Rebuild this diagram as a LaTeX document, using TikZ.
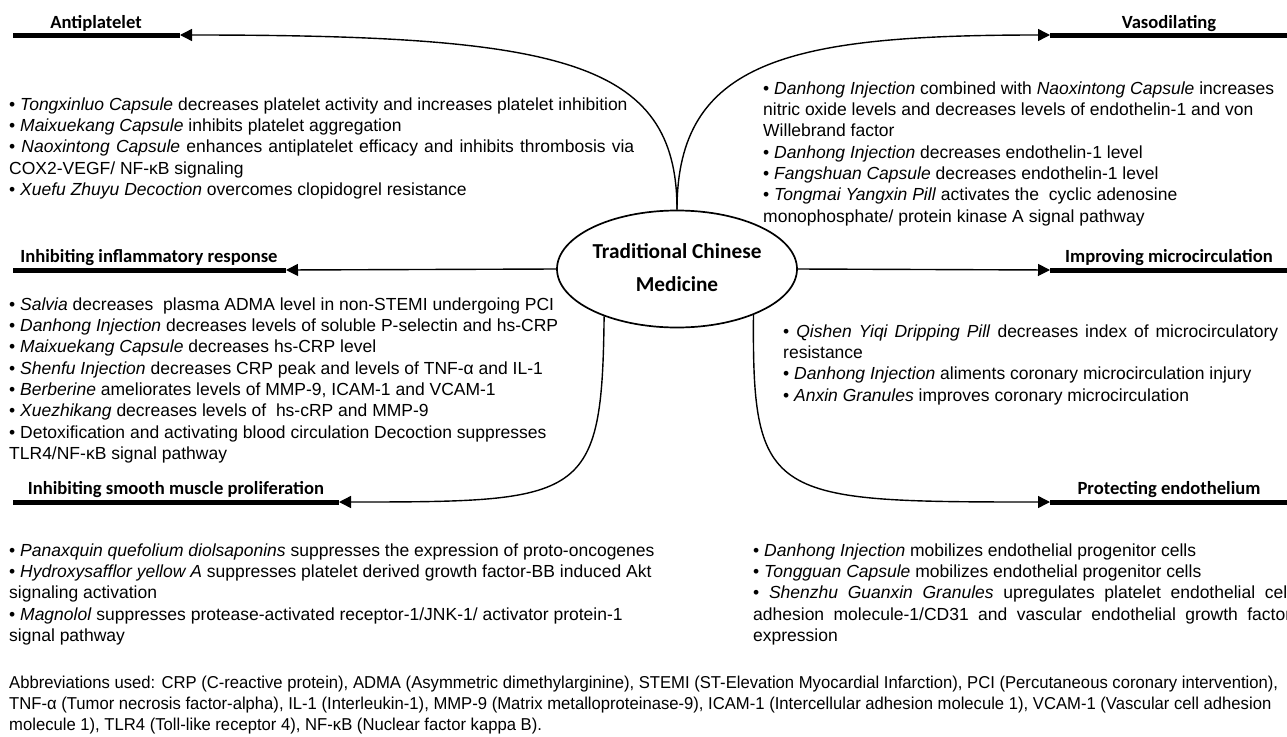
\documentclass[tikz,border=0pt]{standalone}
\usepackage{fontspec}
\setmainfont{Liberation Sans}
\newfontfamily\headfamily{Carlito}
\usetikzlibrary{arrows.meta,shapes.geometric}
\newcommand\bodyfont{\fontsize{17.5pt}{21.3pt}\selectfont}
\newcommand\hdfont{\headfamily\bfseries\fontsize{18.6pt}{23pt}\selectfont}
\newcommand\tcmfont{\headfamily\bfseries\fontsize{21.3pt}{26pt}\selectfont}
\newcommand\abbrfont{\fontsize{17.2pt}{21.3pt}\selectfont}
\newsavebox\abbrbox
\tikzset{
  blocktext/.style={anchor=north west, inner sep=0pt, align=left, font=\bodyfont},
  headtext/.style={anchor=base, inner sep=0pt, font=\hdfont},
  hbar/.style={line width=5pt},
  conn/.style={line width=1.4pt, -{Triangle[length=12pt,width=12pt]}},
  tcmshape/.style={draw, ellipse, line width=1.7pt, minimum width=240pt, minimum height=117pt, inner sep=0pt}
}
\begin{document}
\sbox\abbrbox{\abbrfont Abbreviations used: CRP (C-reactive protein), ADMA (Asymmetric dimethylarginine), STEMI (ST-Elevation Myocardial Infarction), PCI (Percutaneous coronary intervention),}%
\pgfmathsetmacro\abbrratio{1269/\the\wd\abbrbox}%
\begin{tikzpicture}[x=1pt,y=-1pt]
\useasboundingbox (0,0) rectangle (1287,736);
\fill[white] (0,0) rectangle (1287,736);
\clip (0,0) rectangle (1287,736);

% central ellipse
\node[tcmshape] (tcm) at (677,269) {};
\node[anchor=base, inner sep=0pt, font=\tcmfont] (tcmA) at (677,258) {Traditional Chinese};
\node[anchor=base, inner sep=0pt, font=\tcmfont] (tcmB) at (677,291) {Medicine};

% bar end coordinates
\coordinate (apL) at (13,35);   \coordinate (apTip) at (180,35);
\coordinate (vdTip) at (1050,35); \coordinate (vdR) at (1292,35);
\coordinate (inL) at (13,270);  \coordinate (inTip) at (286,270);
\coordinate (mcTip) at (1050,270); \coordinate (mcR) at (1292,270);
\coordinate (smL) at (13,502);  \coordinate (smTip) at (339,502);
\coordinate (peTip) at (1050,502); \coordinate (peR) at (1292,502);

% thick bars
\draw[hbar] (apL) -- (apTip);
\draw[hbar] (vdTip) -- (vdR);
\draw[hbar] (inL) -- (inTip);
\draw[hbar] (mcTip) -- (mcR);
\draw[hbar] (smL) -- (smTip);
\draw[hbar] (peTip) -- (peR);

% connectors
\draw[conn] (tcm.north) .. controls (677,60) and (560,35) .. (apTip);
\draw[conn] (tcm.north) .. controls (677,60) and (790,35) .. (vdTip);
\draw[conn] (tcm.west) -- (inTip);
\draw[conn] (tcm.east) -- (mcTip);
\draw[conn] (tcm.213) .. controls (602,500) and (585,502) .. (smTip);
\draw[conn] (tcm.329) .. controls (752,500) and (770,502) .. (peTip);

% headings
\node[headtext] (hAP) at (96,28) {Antiplatelet};
\node[headtext] (hVD) at (1169,28) {Vasodilating};
\node[headtext] (hIN) at (149,262) {Inhibiting inflammatory response};
\node[headtext] (hMC) at (1169,262) {Improving microcirculation};
\node[headtext] (hSM) at (176,494) {Inhibiting smooth muscle proliferation};
\node[headtext] (hPE) at (1169,494) {Protecting endothelium};

% text blocks
\node[blocktext] (tAP) at (9,95.1) {\strut• \textit{Tongxinluo Capsule} decreases platelet activity and increases platelet inhibition\\
• \textit{Maixuekang Capsule} inhibits platelet aggregation\\
\makebox[625pt][s]{• \textit{Naoxintong Capsule} enhances antiplatelet efficacy and inhibits thrombosis via}\\
COX2-VEGF/ NF-κB signaling\\
• \textit{Xuefu Zhuyu Decoction} overcomes clopidogrel resistance};

\node[blocktext] (tVD) at (763,79.1) {\strut• \textit{Danhong Injection} combined with \textit{Naoxintong Capsule} increases\\
nitric oxide levels and decreases levels of endothelin-1 and von\\
Willebrand factor\\
• \textit{Danhong Injection} decreases endothelin-1 level\\
• \textit{Fangshuan Capsule} decreases endothelin-1 level\\
• \textit{Tongmai Yangxin Pill} activates the~ cyclic adenosine\\
monophosphate/ protein kinase A signal pathway};

\node[blocktext] (tIN) at (9,295.1) {\strut• \textit{Salvia} decreases~ plasma ADMA level in non-STEMI undergoing PCI\\
• \textit{Danhong Injection} decreases levels of soluble P-selectin and hs-CRP\\
• \textit{Maixuekang Capsule} decreases hs-CRP level\\
• \textit{Shenfu Injection} decreases CRP peak and levels of TNF-α and IL-1\\
• \textit{Berberine} ameliorates levels of MMP-9, ICAM-1 and VCAM-1\\
• \textit{Xuezhikang} decreases levels of~ hs-cRP and MMP-9\\
• Detoxification and activating blood circulation Decoction suppresses\\
TLR4/NF-κB signal pathway};

\node[blocktext] (tMC) at (783,322.1) {\strut\makebox[495pt][s]{• \textit{Qishen Yiqi Dripping Pill} decreases index of microcirculatory}\\
resistance\\
• \textit{Danhong Injection} aliments coronary microcirculation injury\\
• \textit{Anxin Granules} improves coronary microcirculation};

\node[blocktext] (tSM) at (9,541.1) {\strut• \textit{Panaxquin quefolium diolsaponins} suppresses the expression of proto-oncogenes\\
• \textit{Hydroxysafflor yellow A} suppresses platelet derived growth factor-BB induced Akt\\
signaling activation\\
• \textit{Magnolol} suppresses protease-activated receptor-1/JNK-1/ activator protein-1\\
signal pathway};

\node[blocktext] (tPE) at (753,541.1) {\strut• \textit{Danhong Injection} mobilizes endothelial progenitor cells\\
• \textit{Tongguan Capsule} mobilizes endothelial progenitor cells\\
\makebox[538pt][s]{• \textit{Shenzhu Guanxin Granules} upregulates platelet endothelial cell}\\
\makebox[538pt][s]{adhesion molecule-1/CD31 and vascular endothelial growth factor}\\
expression};

% abbreviations
\node[anchor=base west, inner sep=0pt] (abA) at (9,688) {\scalebox{\abbrratio}[1]{\usebox\abbrbox}};
\node[anchor=base west, inner sep=0pt] (abB) at (9,709) {\scalebox{\abbrratio}[1]{\abbrfont TNF-α (Tumor necrosis factor-alpha), IL-1 (Interleukin-1), MMP-9 (Matrix metalloproteinase-9), ICAM-1 (Intercellular adhesion molecule 1), VCAM-1 (Vascular cell adhesion}};
\node[anchor=base west, inner sep=0pt] (abC) at (9,730) {\scalebox{\abbrratio}[1]{\abbrfont molecule 1), TLR4 (Toll-like receptor 4), NF-κB (Nuclear factor kappa B).}};
\end{tikzpicture}
\end{document}
